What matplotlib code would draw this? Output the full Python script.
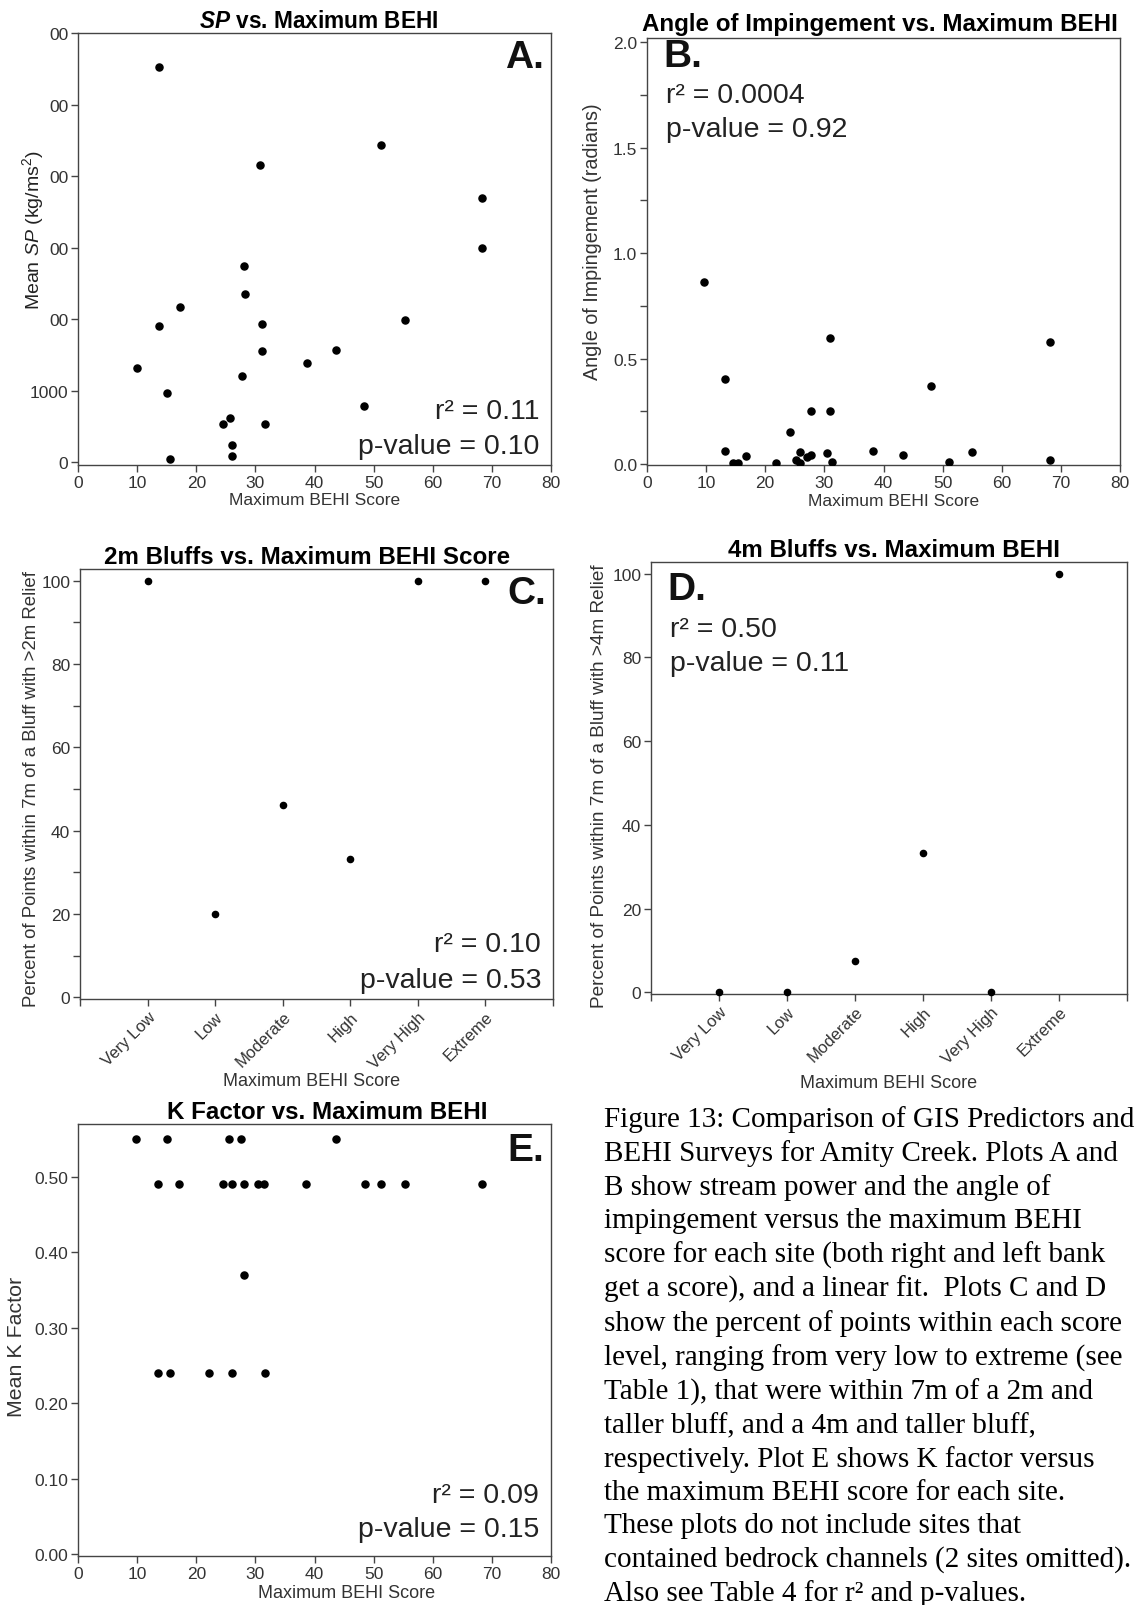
"""Figure 13: GIS predictors vs. BEHI surveys, Amity Creek (5 panels + caption)."""

import matplotlib
matplotlib.use("Agg")
import matplotlib.pyplot as plt
from matplotlib.ticker import MultipleLocator

plt.rcParams["font.family"] = ["Liberation Sans", "DejaVu Sans"]
plt.rcParams["mathtext.fontset"] = "custom"
plt.rcParams["mathtext.rm"] = "Liberation Sans"
plt.rcParams["mathtext.it"] = "Liberation Sans:italic"
plt.rcParams["mathtext.bf"] = "Liberation Sans:bold"
plt.rcParams["mathtext.bfit"] = "Liberation Sans:bold:italic"

# --- data ---
sp_behi = [13.7, 51.2, 30.7, 68.4, 68.4, 28.1, 28.2, 17.2, 13.7, 31.2, 55.3, 31.2,
           43.7, 10.0, 38.8, 27.7, 15.0, 48.4, 25.7, 24.6, 31.7, 26.1, 26.1, 15.6]
sp_mean = [5520, 4440, 4160, 3690, 3000, 2740, 2350, 2170, 1900, 1930, 1990, 1550,
           1570, 1320, 1380, 1210, 970, 780, 615, 530, 530, 240, 80, 40]
sp_yticklabels = ["0", "1000", "00", "00", "00", "00", "00"]

aoi_behi = [9.6, 30.9, 68.1, 13.25, 48.0, 27.75, 30.9, 24.2, 13.25, 38.3, 54.9, 25.8,
            30.4, 43.25, 16.8, 27.75, 27.1, 25.2, 68.1, 51.0, 31.25, 14.6, 15.4, 21.75, 25.8]
aoi_rad = [0.863, 0.597, 0.578, 0.403, 0.371, 0.251, 0.251, 0.151, 0.064, 0.064, 0.059,
           0.059, 0.055, 0.044, 0.040, 0.044, 0.036, 0.022, 0.019, 0.012, 0.012, 0.005,
           0.005, 0.005, 0.005]

behi_levels = ["Very Low", "Low", "Moderate", "High", "Very High", "Extreme"]
bluff2m_pct = [100, 20, 46.1, 33.2, 100, 100]
bluff4m_pct = [0, 0, 7.6, 33.3, 0, 100]

k_behi = [9.8, 15.0, 25.5, 27.5, 43.7,
          13.5, 17.0, 24.5, 26.1, 28.1, 30.4, 31.4, 38.6, 48.5, 51.3, 55.3, 68.3,
          28.1,
          13.5, 15.5, 22.1, 26.1, 31.7]
k_mean = [0.55] * 5 + [0.49] * 12 + [0.37] + [0.24] * 5

caption_lines = [
    "Figure 13: Comparison of GIS Predictors and",
    "BEHI Surveys for Amity Creek. Plots A and",
    "B show stream power and the angle of",
    "impingement versus the maximum BEHI",
    "score for each site (both right and left bank",
    "get a score), and a linear fit.  Plots C and D",
    "show the percent of points within each score",
    "level, ranging from very low to extreme (see",
    "Table 1), that were within 7m of a 2m and",
    "taller bluff, and a 4m and taller bluff,",
    "respectively. Plot E shows K factor versus",
    "the maximum BEHI score for each site.",
    "These plots do not include sites that",
    "contained bedrock channels (2 sites omitted).",
    "Also see Table 4 for r\u00b2 and p-values.",
]

SPINE = "#444444"
TICKC = "#333333"
STAT_FS = 20.5
LETTER_FS = 28
TITLE_FS = 17.4
TICK_FS = 12.5
XLAB_FS = 12.5

W, H = 1139, 1606


def _rect(left, top, right, bottom):
    """Pixel box -> figure fraction [l, b, w, h]."""
    return [left / W, 1 - bottom / H, (right - left) / W, (bottom - top) / H]


def _style(ax):
    for s in ax.spines.values():
        s.set_color(SPINE)
        s.set_linewidth(1.0)
    ax.tick_params(direction="out", length=5, width=1, color=SPINE,
                   labelcolor=TICKC, labelsize=TICK_FS, pad=2)
    ax.tick_params(which="minor", direction="out", length=5, width=1, color=SPINE)


def _stats(ax, r2, pval, y_r2, y_p, left=False):
    x, ha = (0.04, "left") if left else (0.975, "right")
    ax.text(x, y_r2, f"r\u00b2 = {r2}", transform=ax.transAxes,
            ha=ha, va="center", fontsize=STAT_FS, color="#222222")
    ax.text(x, y_p, f"p-value = {pval}", transform=ax.transAxes,
            ha=ha, va="center", fontsize=STAT_FS, color="#222222")


def _letter(ax, letter, y, left=False):
    x, ha = (0.035, "left") if left else (0.985, "right")
    ax.text(x, y, letter, transform=ax.transAxes, ha=ha, va="center",
            fontsize=LETTER_FS, fontweight="bold", color="#111111")


def _xlabel_at(ax, x, y, fs):
    ax.set_xlabel("Maximum BEHI Score", fontsize=fs, color=TICKC)
    ax.xaxis.set_label_coords(x, y)
    ax.xaxis.label.set_va("center")


fig = plt.figure(figsize=(W / 100, H / 100), dpi=100)

# A: stream power
axA = fig.add_axes(_rect(78, 34, 551, 466))
axA.scatter(sp_behi, sp_mean, s=26, color="black", zorder=3)
axA.set_xlim(0, 80)
axA.set_ylim(-40, 6000)
axA.set_xticks(range(0, 81, 10))
axA.set_yticks(range(0, 6001, 1000))
axA.set_yticklabels(sp_yticklabels)
_style(axA)
axA.set_title(r"$\mathbfit{SP}$ vs. Maximum BEHI", fontsize=16.3,
              fontweight="bold", pad=4, x=0.509)
_xlabel_at(axA, 0.5, -0.08, XLAB_FS)
axA.set_ylabel(r"Mean $\mathit{SP}$ (kg/ms$^2$)", fontsize=14, color="#222222")
axA.yaxis.set_label_coords(-0.068, 0.547)
_letter(axA, "A.", 0.945)
_stats(axA, "0.11", "0.10", 0.125, 0.045)

# B: angle of impingement
axB = fig.add_axes(_rect(647, 39, 1120, 466))
axB.scatter(aoi_behi, aoi_rad, s=26, color="black", zorder=3)
axB.set_xlim(0, 80)
axB.set_ylim(-0.004, 2.02)
axB.set_xticks(range(0, 81, 10))
axB.set_yticks([0, 0.5, 1.0, 1.5, 2.0])
axB.yaxis.set_minor_locator(MultipleLocator(0.25))
_style(axB)
axB.set_title("Angle of Impingement vs. Maximum BEHI", fontsize=TITLE_FS,
              fontweight="bold", pad=6, x=0.492)
_xlabel_at(axB, 0.522, -0.083, XLAB_FS)
axB.set_ylabel("Angle of Impingement (radians)", fontsize=14.2, color=TICKC)
axB.yaxis.set_label_coords(-0.095, 0.526)
_letter(axB, "B.", 0.959, left=True)
_stats(axB, "0.0004", "0.92", 0.866, 0.787, left=True)

# C and D: bluff proximity by BEHI level
cat_pos = list(range(1, len(behi_levels) + 1))
panels_cd = [
    (_rect(80, 570, 553, 1000), bluff2m_pct, "2m Bluffs vs. Maximum BEHI Score", 0.48,
     "Percent of Points within 7m of a Bluff with >2m Relief", 13.4, -0.085, 0.49,
     0.49, -0.19, "C.", "0.10", "0.53"),
    (_rect(651, 563, 1127, 995), bluff4m_pct, "4m Bluffs vs. Maximum BEHI", 0.51,
     "Percent of Points within 7m of a Bluff with >4m Relief", 13.7, -0.09, 0.483,
     0.5, -0.204, "D.", "0.50", "0.11"),
]
for (rect, vals, title, title_x, ylab, ylab_fs, ylab_x, ylab_y,
     xlab_x, xlab_y, letter, r2, pv) in panels_cd:
    ax = fig.add_axes(rect)
    ax.scatter(cat_pos, vals, s=20, color="black", zorder=3, clip_on=False)
    ax.set_xlim(0, 7)
    ax.set_ylim(-0.4, 102.8)
    ax.set_xticks(range(0, 8))
    ax.set_xticklabels([""] + behi_levels + [""], rotation=45, ha="right",
                       rotation_mode="anchor")
    ax.set_yticks(range(0, 101, 20))
    if letter == "C.":
        ax.yaxis.set_minor_locator(MultipleLocator(10))
    _style(ax)
    ax.tick_params(axis="x", labelsize=12, pad=2)
    ax.set_title(title, fontsize=TITLE_FS, fontweight="bold", pad=4, x=title_x)
    _xlabel_at(ax, xlab_x, xlab_y, 13)
    ax.set_ylabel(ylab, fontsize=ylab_fs, color=TICKC)
    ax.yaxis.set_label_coords(ylab_x, ylab_y)
    if letter == "C.":
        _letter(ax, letter, 0.945)
        _stats(ax, r2, pv, 0.129, 0.045)
    else:
        _letter(ax, letter, 0.938, left=True)
        _stats(ax, r2, pv, 0.845, 0.767, left=True)

# E: K factor
axE = fig.add_axes(_rect(78, 1125, 551, 1557))
axE.scatter(k_behi, k_mean, s=26, color="black", zorder=3)
axE.set_xlim(0, 80)
axE.set_ylim(-0.002, 0.57)
axE.set_xticks(range(0, 81, 10))
axE.set_yticks([0, 0.1, 0.2, 0.3, 0.4, 0.5])
axE.set_yticklabels([f"{v:.2f}" for v in [0, 0.1, 0.2, 0.3, 0.4, 0.5]])
_style(axE)
axE.set_title("K Factor vs. Maximum BEHI", fontsize=TITLE_FS, fontweight="bold",
              pad=4, x=0.528)
_xlabel_at(axE, 0.567, -0.085, 13)
axE.set_ylabel("Mean K Factor", fontsize=15.4, color=TICKC)
axE.yaxis.set_label_coords(-0.11, 0.486)
_letter(axE, "E.", 0.94)
_stats(axE, "0.09", "0.15", 0.142, 0.062)

# caption
fig.text(604 / W, 1 - 1106 / H, "\n".join(caption_lines), ha="left", va="top",
         fontsize=21, family=["Liberation Serif", "DejaVu Serif"], linespacing=1.343,
         color="black")

fig.savefig("out.png", dpi=100)
